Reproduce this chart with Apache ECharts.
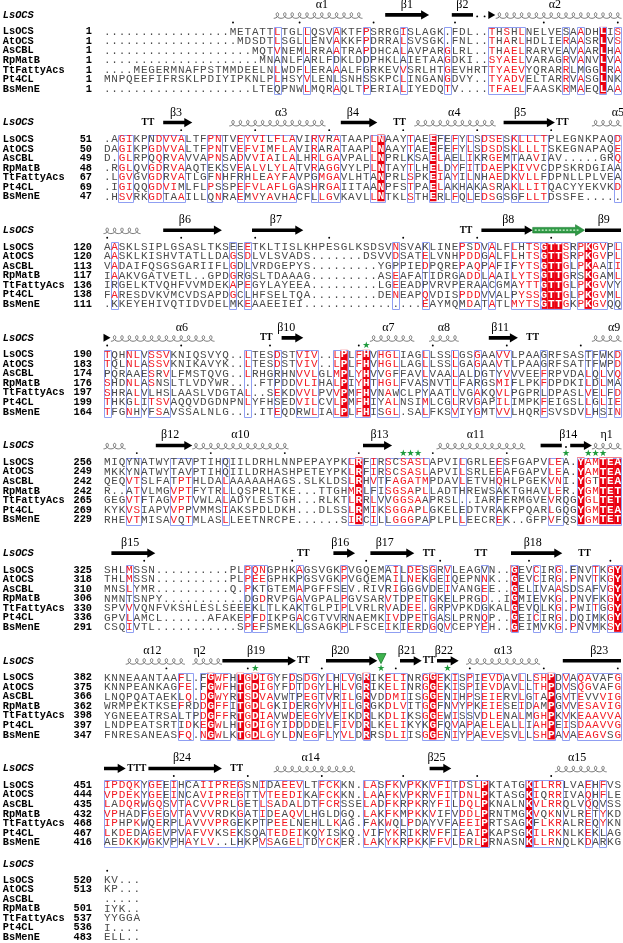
<!DOCTYPE html>
<html><head><meta charset="utf-8">
<script src="https://cdn.jsdelivr.net/npm/echarts@6/dist/echarts.min.js"></script>
<style>html,body{margin:0;padding:0;background:#fff}#c{width:623px;height:943px}</style>
</head><body><div id="c"></div>
<script>
const D = n => '.'.repeat(n);
const names = ['LsOCS','AtOCS','AsCBL','RpMatB','TtFattyAcs','Pt4CL','BsMenE'];

const num1 = [1,1,1,1,1,1,1];
const seq1 = [
 D(17)+'METATTLTGLLQSVAKTFPSRRGISLAGK.FDL..THSHLNELVESAADHLIS',
 D(18)+'MDSDTLSGLLENVAKKFPDRRALSVSGK.FNL..THARLHDLIERAASRLVS',
 D(20)+'MQTVNEMLRRAATRAPDHCALAVPARGLRL..THAELRARVEAVAARLHA',
 D(21)+'MNANLFARLFDKLDDPHKLAIETAAGDKI..SYAELVARAGRVANVLVA',
 D(4)+'MEGERMNAFPSTMMDEELNLWDFLERAAALFGRKEVVSRLHTGEVHRTTYAEVYQRARRLMGGLRA',
 'MNPQEEFIFRSKLPDIYIPKNLPLHSYVLENLSNHSSKPCLINGANGDVY..TYADVELTARRVASGLNK',
 D(20)+'LTEQPNWLMQRAQLTPERIALIYEDQTV'+D(4)+'TFAELFAASKRMAEQLAA'
];
const box1 = [[23,23],[27,27],[31,31],[35,35],[40,40],[46,46],[52,56],[62,62],[64,64],[67,67],[69,69]];
const fill1 = [67];
const ss1 = [['h',23,34,'α1',29.5],['a',38,43,'β1',41],['l',47,49,'β2',48.5],['d',50,51],['hd',52,52],['h',53,69,'α2',61]];
const mark1 = [];

const num2 = [51,50,49,48,67,69,47];
const seq2 = [
 '.AGIKPNDVVALTFPNTVEYVILFLAVIRVRATAAPLNAAYTAEEFEFYLSDSESKLLLTPLEGNKPAQD',
 'DAGIKPGDVVALTFPNTVEFVIMFLAVIRARATAAPLNAAYTAEEFEFYLSDSDSKLLLTSKEGNAPAQE',
 'D.GLRPQQRVAVVAPNSADVVIAILALHRLGAVPALLNPRLKSAELAELIKRGEMTAAVIAV.....GRQ',
 '.RGLQVGDRVAAQTEKSVEALVLYLATVRAGGVYLPLNTAYTLHELDYFITDAEPKIVVCDPSKRDGIAA',
 '.LGVGVGDRVATLGFNHFRHLEAYFAVPGMGAVLHTANPRLSPKEIAYILNHAEDKVLLFDPNLLPLVEA',
 '.IGIQQGDVIMLFLPSSPEFVLAFLGASHRGAIITAANPFSTPAELAKHAKASRAKLLITQACYYEKVKD',
 '.HSVRKGDTAAILLQNRAEMVYAVHACFLLGVKAVLLNTKLSTHERLFQLEDSGSGFLLTDSSFE.....'
];
const box2 = [[2,3],[6,7],[8,10],[14,15],[18,18],[19,25],[28,28],[29,31],[36,37],[41,41],[44,45],[47,47],[49,49],[51,53],[55,55],[56,59],[69,69]];
const fill2 = [37,44];
const ss2 = [['t',5,6],['a',8,11,'β3',9.8],['h',17,29,'α3',24],['a',32,36,'β4',33.7],['t',39,40],['h',42,52,'α4',47.4],['a',54,60,'β5',56.3],['t',61,62],['h',66,69,'α5',69.5]];
const mark2 = [];

const num3 = [120,120,113,117,136,138,111];
const seq3 = [
 'AASKLSIPLGSASLTKSEEETKLTISLKHPESGLKSDSVNSVAKLINEPSDVALFLHTSGTTSRPKGVPL',
 'AASKLKISHVTATLLDAGSDLVLSVADS'+D(7)+'DSVVDSATELVNHPDDGALFLHTSGTTSRPKGVPL',
 'VADAIFQSGSGARIIFLGDLVRDGEPYS'+D(9)+'YGPPIEDPQREPAQPAFIFYTSGTTGLPKAAII',
 'IAAKVGATVETL..GPDGRGSLTDAAAG'+D(9)+'ASEAFATIDRGADDLAAILYTSGTTGRSKGAML',
 'IRGELKTVQHFVVMDEKAPEGYLAYEEA'+D(9)+'LGEEADPVRVPERAACGMAYTTGTTGLPKGVVY',
 'FARESDVKVMCVDSAPDGCLHFSELTQA'+D(9)+'DENEAPQVDISPDDVVALPYSSGTTGLPKGVML',
 '.KKEYEHIVQTIDVDELMKEAAEEIEI'+D(16)+'EAYMQMDATATLMYTSGTTGKPKGVQQ'
];
const box3 = [[1,1],[17,17],[19,19],[39,39],[43,43],[48,50],[52,52],[55,58],[59,62],[64,67],[69,69]];
const fill3 = [59,60,61,65];
const ss3 = [['h',0,4],['a',8,15,'β6',11],['a',20,26,'β7',23.3],['t',48,49],['a',51,57,'β8',54.7],['g',58,64],['l',65,69,'β9',67.6]];
const mark3 = [];

const num4 = [190,183,174,176,197,199,164];
const seq4 = [
 'TQHNLVSSVKNIQSVYQ..LTESDSTVIV..LPLFHVHGLIAGLLSSLGSGAAVVLPAAGRFSASTFWKD',
 'TQLNLASSVKNIKAVYK..LTESDSTVIV..LPLFHVHGLLAGLLSSLGAGAAVTLPAAGRFSATTFWPD',
 'PQRAAESRVLFMSTQVG..LRHGRHNVVLGLMPLYHVVGFFAVLVAALALDGTYVVVEEFRPVDALQLVQ',
 'SHDNLASNSLTLVDYWR....FTPDDVLIHALPIYHTHGLFVASNVTLFARGSMIFLPKFDPDKILDLMA',
 'SHRALVLHSLAASLVDGTAL..SEKDVVLPVVPMFHVNAWCLPYAATLVGAKQVLPGPRLDPASLVELFD',
 'THKGLITSVAQQVDGDNPNLYFHSEDVILCVLPMFHIYALNSIMLCGLRVGAPILIMPKFEIGSLLGLIE',
 'TFGNHYFSAVSSALNLG....ITEQDRWLIALPLFHISGL.SALFKSVIYGMTVVLHQRFSVSDVLHSIN'
];
const box4 = [[0,0],[3,4],[6,8],[19,19],[23,23],[26,28],[31,32],[34,35],[37,39],[43,43],[47,47],[50,50],[53,54],[59,59],[65,65],[67,67],[69,69]];
const fill4 = [32,35];
const ss4 = [['hd',0,0],['h',1,14,'α6',10.6],['t',21,22],['a',24,26,'β10',24.7],['h',36,41,'α7',38.5],['h',44,47,'α8',46],['a',52,55,'β11',53.6],['t',57,58],['h',66,69,'α9',69]];
const mark4 = [['s',35]];

const num5 = [256,249,242,242,265,269,229];
const seq5 = [
 'MIQYNATWYTAVPTIHQIILDRHLNNPEPAYPKLRFIRSCSASLAPVILGRLEESFGAPVLEA.YAMTEA',
 'MKKYNATWYTAVPTIHQIILDRHASHPETEYPKLRFIRSCSASLAPVILSRLEEAFGAPVLEA.YAMTEA',
 'QEQVTSLFATPTHLDALAAAAAHAGS.SLKLDSLRHVTFAGATMPDAVLETVHQHLPGEKVNI.YGTTEA',
 'R..ATVLMGVPTFYTRLLQSPRLTKE...TTGHMRLFISGSAPLLADTHREWSAKTGHAVLER.YGMTET',
 'GEGVTFTAGVPTVWLALADYLESTGH...RLKTLRRLVVGGSAAPRSL..IARFERMGVEVRQGYGLTET',
 'KYKVSIAPVVPPVMMSIAKSPDLDKH...DLSSLRMIKSGGAPLGKELEDTVRAKFPQARLGQGYGMTEA',
 'RHEVTMISAVQTMLASLLEETNRCPE'+D(6)+'SIRCILLGGGPAPLPLLEECREK..GFPVFQSYGMTET'
];
const box5 = [[3,4],[9,11],[16,16],[33,34],[36,36],[38,43],[48,48],[53,53],[60,61],[64,69]];
const fill5 = [34,64,67,68,69];
const ss5 = [['h',0,2],['a',7,11,'β12',9],['h',12,24,'α10',18.5],['a',35,38,'β13',37.3],['h',45,56,'α11',50.3],['l',59,61,'β14',62.8],['d',62,62],['a',63,65],['h',66,69,'η1',68]];
const mark5 = [['s',40],['s',41],['s',42],['s',62],['s',65],['s',66],['s',67]];

const num6 = [325,318,310,306,330,336,291];
const seq6 = [
 'SHLMSSN'+D(10)+'PLPQNGPHKAGSVGKPVGQEMAILDESGRVLEAGVN..GEVCIRG.ENVTKGY',
 'THLMSSN'+D(10)+'PLPEEGPHKPGSVGKPVGQEMAILNEKGEIQEPNNK..GEVCIRG.PNVTKGY',
 'MNSLYMR'+D(10)+'Q.PKTGTEMAPGFFSEV.RIVRIGGGVDEIVANGEE..GELIVAASDSAFVGY',
 'NMNTSNPY'+D(11)+'DGDRVPGAVGPALPGVSARVTDPETGKELPRGD..IGMIEVKG.PNVFKGY',
 'SPVVVQNFVKSHLESLSEEEKLTLKAKTGLPIPLVRLRVADEE.GRPVPKDGKALGEVQLKG.PWITGGY',
 'GPVLAMCL'+D(6)+'AFAKEPFDIKPGACGTVVRNAEMKIVDPETGASLPRNQP..GEICIRG.DQIMKGY',
 'CSQIVTL'+D(11)+'SPEFSMEKLGSAGKPLFSCEIKIERDGQVCEPYEH..GEIMVKG.PNVMKSY'
];
const box6 = [[3,3],[19,19],[20,21],[26,26],[32,32],[38,39],[41,42],[44,44],[46,46],[51,51],[55,55],[58,58],[61,61],[63,63],[66,66],[68,69]];
const fill6 = [55,69];
const ss6 = [['a',1,6,'β15',3.6],['t',26,27],['a',31,33,'β16',32],['a',36,41,'β17',38],['t',43,44],['t',50,51],['a',55,61,'β18',58],['t',64,65]];
const mark6 = [];

const num7 = [382,375,366,362,398,397,347];
const seq7 = [
 'KNNEAANTAAFL.FGWFHTGDIGYFDSDGYLHLVGRIKELINRGGEKISPIEVDAVLLSHPDVAQAVAFG',
 'KNNPEANKAGFE.FGWFHTGDIGYFDTDGYLHLVGRIKELINRGGEKISPIEVDAVLLTHPDVSQGVAFG',
 'LNQPQATAEKLQ.DGWYRTSDVAVWTPEGTVRILGRVDDMIISGGENIHPSEIERVLGTAPGVTEVVVIG',
 'WRMPEKTKSEFRDDGFFITGDLGKIDERGYVHILGRGKDLVITGGFNVYPKEIESEIDAMPGVVESAVIG',
 'YGNEEATRSALTPDGFFRTGDIAVWDEEGYVEIKDRLKDLIKSGGEWISSVDLENALMGHPKVKEAAVVA',
 'LNDPEATSRTIDKEGWLHTGDIGYIDDDDELFIVDRLKELIKYKGFQVAPAELEALLIAHPEISDAAVVG',
 'FNRESANEASFQ.NGWLKTGDLGYLDNEGFLYVLDRRSDLIISGGENIYPAEVESVLLSHPAVAEAGVSG'
];
const box7 = [[10,11],[13,16],[18,22],[25,25],[27,28],[30,30],[32,33],[35,35],[38,40],[43,45],[47,47],[49,49],[51,53],[56,56],[58,60],[62,62],[64,69]];
const fill7 = [14,18,20,35,44,60];
const ss7 = [['h',3,10,'α12',6.6],['h',12,15,'η2',13],['a',16,25,'β19',20.6],['t',26,27],['a',30,36,'β20',32],['a',40,42,'β21',41],['t',43,44],['a',45,47,'β22',46],['h',49,58,'α13',54],['l',62,69,'β23',67]];
const mark7 = [['s',20],['v',37],['s',37],['s',46]];

const num8 = [451,444,435,432,468,467,416];
const seq8 = [
 'IPDQKYGEEIHCAIIPREGSNIDAEEVLTFCKKN.LASFKVPKKVFITDSLPKTATGKILRRLVAEHFVS',
 'VPDEKYGEEINCAVIPREGTTVTEEDIKAFCKKN.LAAFKVPKRVFITDNLPKTASGKIQRRIVAQHFLE',
 'LADQRWGQSVTACVVPRLGETLSADALDTFCRSSELADFKRPKRYFILDQLPKNALNKVLRRQLVQQVSS',
 'VPHADFGEGVTAVVVRDKGATIDEAQVLHGLDGQ.LAKFKMPKKVIFVDDLPRNTMGKVQKNVLRETYKD',
 'IPHPKWQERPLAVVVPRGEKPTPEELNEHLLKAG.FAKWQLPDAYVFAEEIPRTSAGKFLKRALREQYKN',
 'LKDEDAGEVPVAFVVKSEKSQATEDEIKQYISKQ.VIFYKRIKRVFFIEAIPKAPSGKILRKNLKEKLAG',
 'AEDKKWGKVPHAYLV..LHKPVSAGELTDYCKER.LAKYKRPKKFFVLDRLPRNASNKLLRNQLKDARKG'
];
const box8 = [[0,4],[6,7],[9,9],[11,17],[18,18],[21,21],[22,26],[29,31],[35,36],[38,39],[41,42],[44,46],[48,51],[57,57],[58,61],[65,65],[67,67]];
const fill8 = [51,57];
const ss8 = [['a',0,2],['t3',3,5],['a',6,15,'β24',10.6],['t',17,18],['h',23,33,'α14',28],['a',44,46,'β25',45],['h',61,67,'α15',64]];
const mark8 = [];

const num9 = [520,513,'',501,537,536,483];
const seq9 = ['KV...','KP...','.....','IYK..','YYGGA','I....','ELL..'];

// ---------- layout ----------
const COLX = 103.5, CW = 7.4;
const ROW0 = [31.7, 139.35, 247, 354.65, 462.3, 569.95, 677.6, 785.25, 880];
const PITCH = 9.55;
const INK = '#4a4a4a', RED = '#f21b24', FILLRED = '#ea0010', BLUE = '#8f9ef2', GREEN = '#1e9a3c';
const MONO = '"Liberation Mono","DejaVu Sans Mono",monospace';
const SERIF = '"Liberation Serif","DejaVu Serif",serif';

const blocks = [
 {seq:seq1,num:num1,box:box1,fill:fill1,ss:ss1,mark:mark1},
 {seq:seq2,num:num2,box:box2,fill:fill2,ss:ss2,mark:mark2},
 {seq:seq3,num:num3,box:box3,fill:fill3,ss:ss3,mark:mark3},
 {seq:seq4,num:num4,box:box4,fill:fill4,ss:ss4,mark:mark4},
 {seq:seq5,num:num5,box:box5,fill:fill5,ss:ss5,mark:mark5},
 {seq:seq6,num:num6,box:box6,fill:fill6,ss:ss6,mark:mark6},
 {seq:seq7,num:num7,box:box7,fill:fill7,ss:ss7,mark:mark7},
 {seq:seq8,num:num8,box:box8,fill:fill8,ss:ss8,mark:mark8},
 {seq:seq9,num:num9,box:[],fill:[],ss:[],mark:[]}
];

const GROUPS = ['ILVM','FYW','KRH','DENQ','STAG','P','C'];
function gi(ch){ for (let i=0;i<GROUPS.length;i++) if (GROUPS[i].indexOf(ch)>=0) return i; return -1; }

const cellData=[], cellMeta=[], fillData=[], boxData=[], lblData=[], lblMeta=[], ssData=[], ssMeta=[];
const NAMEX = (2.8-COLX)/CW, NUMX = (92-COLX)/CW;

blocks.forEach((B,b)=>{
  const y0 = ROW0[b];
  const yTop = y0 - 4.8, yBot = y0 + 6*PITCH + 4.6;
  const inBox = [], isFill = [];
  B.box.forEach(([c0,c1])=>{ for(let c=c0;c<=c1;c++) inBox[c]=true; boxData.push([c0,c1+1,yTop,yBot]); });
  B.fill.forEach(c=>{ isFill[c]=true; fillData.push([c,c+1,yTop,yBot]); });
  const redG = {};
  for (let c=0;c<70;c++) if (inBox[c] && !isFill[c]) {
    const cnt={}; B.seq.forEach(s=>{const g=gi(s[c]); if(g>=0) cnt[g]=(cnt[g]||0)+1;});
    let best=-1,bc=0; for(const g in cnt) if(cnt[g]>bc){bc=cnt[g];best=+g;}
    if (bc>=3) redG[c]=best;
  }
  B.seq.forEach((s,r)=>{
    const y = y0 + r*PITCH;
    for (let c=0;c<s.length;c++){
      const ch=s[c]; let color=INK, bold=false;
      if (isFill[c]) {color='#fff'; bold=true;}
      else if (redG[c]!==undefined && gi(ch)===redG[c]) color=RED;
      cellData.push([c+0.5,y]); cellMeta.push({ch,color,bold});
    }
    lblData.push([NAMEX,y]); lblMeta.push({t:names[r],align:'left',font:'bold 10.3px '+MONO});
    lblData.push([NUMX,y]); lblMeta.push({t:String(B.num[r]),align:'right',font:'bold 10.3px '+MONO});
  });
  const hy = b===8 ? y0-15.5 : y0-16.5;
  lblData.push([NAMEX,hy]); lblMeta.push({t:'LsOCS',align:'left',font:'italic bold 10.3px '+MONO});
  let res = B.num[0];
  const s0 = B.seq[0];
  for (let c=0;c<s0.length;c++){
    if (s0[c]!=='.') { if (res%10===0 || res===1) { ssData.push([c+0.5,y0-9.2]); ssMeta.push({t:'dot'}); } res++; }
  }
  B.ss.forEach(e=>{
    ssData.push([e[1], y0-16.8]); ssMeta.push({t:e[0],c0:e[1],c1:e[2],y:y0-16.8});
    if (e[3]) { ssData.push([e[4], y0-27]); ssMeta.push({t:'lab',txt:e[3]}); }
  });
  B.mark.forEach(m=>{
    if (m[0]==='s') { ssData.push([m[1]+0.5,y0-8.6]); ssMeta.push({t:'star'}); }
    else { ssData.push([m[1]+0.5,y0-19]); ssMeta.push({t:'tri'}); }
  });
});

function ssRender(params, api){
  const m = ssMeta[params.dataIndex];
  const p = api.coord([api.value(0), api.value(1)]);
  const x=p[0], y=p[1];
  if (m.t==='dot') return {type:'circle', shape:{cx:x,cy:y,r:0.95}, style:{fill:'#000'}};
  if (m.t==='star') return {type:'text', x:x, y:y, style:{text:'★', fill:GREEN, font:'9px "DejaVu Sans",sans-serif', align:'center', verticalAlign:'middle'}};
  if (m.t==='tri') return {type:'polygon', shape:{points:[[x-5,y-5],[x+5,y-5],[x,y+5]]}, style:{fill:'#3fb34f', stroke:'#187a2c', lineWidth:0.8}};
  if (m.t==='lab') return {type:'text', x:x, y:y, style:{text:m.txt, fill:'#000', font:'12px '+SERIF, align:'center', verticalAlign:'middle'}};
  const x0 = api.coord([m.c0, m.y])[0], x1 = api.coord([m.c1+1, m.y])[0];
  if (m.t==='h') {
    const n = m.c1-m.c0+1, a=(x1-x0)/(n*2*Math.PI), bb=2.8, pts=[];
    for (let k=0;k<=n*20;k++){ const t=Math.PI + k*2*Math.PI/20; pts.push([x0 + a*(t-Math.PI) - bb*Math.sin(t), y - bb*Math.cos(t) + 0.6]); }
    return {type:'polyline', shape:{points:pts}, style:{stroke:'#555', lineWidth:0.8, fill:null}};
  }
  if (m.t==='a') return {type:'polygon', shape:{points:[[x0+0.5,y-1.8],[x1-8,y-1.8],[x1-8,y-4.6],[x1,y],[x1-8,y+4.6],[x1-8,y+1.8],[x0+0.5,y+1.8]]}, style:{fill:'#000'}};
  if (m.t==='l') return {type:'rect', shape:{x:x0+0.5, y:y-1.8, width:x1-x0-1, height:3.6}, style:{fill:'#000'}};
  if (m.t==='hd') return {type:'polygon', shape:{points:[[x0,y-4],[x0+7,y],[x0,y+4]]}, style:{fill:'#000'}};
  if (m.t==='d') {
    const ch=[]; for(let c=m.c0;c<=m.c1;c++){ const xc=api.coord([c+0.5,m.y])[0]; ch.push({type:'circle',shape:{cx:xc,cy:y+1.5,r:0.95},style:{fill:'#000'}}); }
    return {type:'group', children:ch};
  }
  if (m.t==='g') return {type:'group', children:[
    {type:'polygon', shape:{points:[[x0,y-2.8],[x1-9,y-2.8],[x1-9,y-5.5],[x1,y],[x1-9,y+5.5],[x1-9,y+2.8],[x0,y+2.8]]}, style:{fill:'#2f9a45', stroke:'#1b7a30', lineWidth:0.6}},
    {type:'line', shape:{x1:x0+2,y1:y,x2:x1-6,y2:y}, style:{stroke:'#d8f5d8', lineWidth:1.3, lineDash:[2,1.5]}}
  ]};
  if (m.t==='t' || m.t==='t3') return {type:'text', x:(x0+x1)/2, y:y, style:{text:m.t==='t3'?'TTT':'TT', fill:'#000', font:'bold 9.5px '+SERIF, align:'center', verticalAlign:'middle'}};
  return null;
}

const chart = echarts.init(document.getElementById('c'), null, {renderer:'canvas'});
chart.setOption({
  animation:false,
  backgroundColor:'#fff',
  grid:{left:COLX, top:0, width:70*CW, height:943},
  xAxis:{type:'value', min:0, max:70, show:false},
  yAxis:{type:'value', min:0, max:943, inverse:true, show:false},
  series:[
    {type:'custom', silent:true, clip:false, z:1, data:fillData, renderItem:(p,api)=>{
      const a=api.coord([api.value(0),api.value(2)]), b=api.coord([api.value(1),api.value(3)]);
      return {type:'rect', shape:{x:a[0],y:a[1],width:b[0]-a[0],height:b[1]-a[1]}, style:{fill:FILLRED}};
    }},
    {type:'custom', silent:true, clip:false, z:2, data:boxData, renderItem:(p,api)=>{
      const a=api.coord([api.value(0),api.value(2)]), b=api.coord([api.value(1),api.value(3)]);
      return {type:'rect', shape:{x:Math.round(a[0])+0.5,y:Math.round(a[1])+0.5,width:Math.round(b[0]-a[0]),height:Math.round(b[1]-a[1])}, style:{fill:null,stroke:BLUE,lineWidth:1}};
    }},
    {type:'custom', silent:true, clip:false, z:3, data:cellData, renderItem:(p,api)=>{
      const m=cellMeta[p.dataIndex]; const c=api.coord([api.value(0),api.value(1)]);
      return {type:'text', x:c[0], y:c[1], style:{text:m.ch, fill:m.color, font:(m.bold?'bold ':'')+'11px '+MONO, align:'center', verticalAlign:'middle'}};
    }},
    {type:'custom', silent:true, clip:false, z:3, data:lblData, renderItem:(p,api)=>{
      const m=lblMeta[p.dataIndex]; const c=api.coord([api.value(0),api.value(1)]);
      return {type:'text', x:c[0], y:c[1], style:{text:m.t, fill:'#000', font:m.font, align:m.align, verticalAlign:'middle'}};
    }},
    {type:'custom', silent:true, clip:false, z:4, data:ssData, renderItem:ssRender}
  ]
});
</script></body></html>
